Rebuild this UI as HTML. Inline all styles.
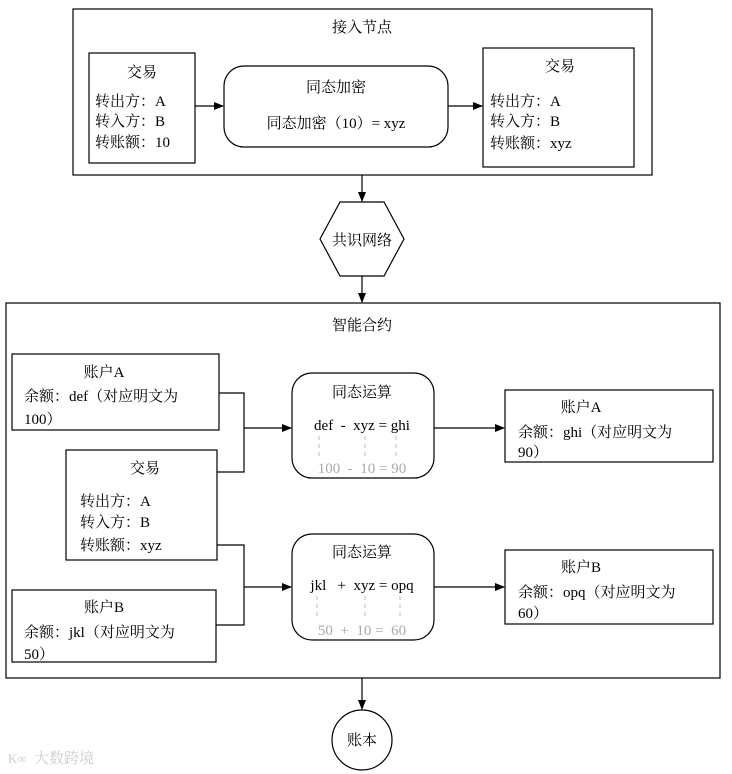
<!DOCTYPE html>
<html><head><meta charset="utf-8"><style>
body{margin:0;background:#fff}
svg{display:block;font-family:"Liberation Serif","Noto Serif CJK SC","Noto Sans CJK SC",serif;font-size:15px}
text{white-space:pre}
</style></head><body>
<svg width="732" height="774" viewBox="0 0 732 774" xmlns="http://www.w3.org/2000/svg">
<defs><marker id="a" markerWidth="10" markerHeight="10" refX="9" refY="5" orient="auto" markerUnits="userSpaceOnUse"><path d="M0,1 L10,5 L0,9 Z" fill="#000"/></marker></defs>
<g fill="none" stroke="#000" stroke-width="1.2">
<rect x="73" y="9" width="579" height="166"/>
<rect x="89" y="53" width="106" height="110"/>
<rect x="224" y="66" width="224" height="81" rx="20"/>
<rect x="483" y="48" width="151" height="119"/>
<line x1="195" y1="106" x2="223" y2="106" marker-end="url(#a)"/>
<line x1="448" y1="106" x2="482" y2="106" marker-end="url(#a)"/>
<line x1="362" y1="175" x2="362" y2="201" marker-end="url(#a)"/>
<polygon points="320,239 340,202 384,202 404,239 384,276 340,276"/>
<line x1="362" y1="276" x2="362" y2="302" marker-end="url(#a)"/>
<rect x="6" y="303" width="714" height="375"/>
<rect x="12" y="354" width="207" height="76"/>
<rect x="66" y="450" width="151" height="110"/>
<rect x="12" y="590" width="204" height="72"/>
<polyline points="219,393 244,393 244,472 217,472"/>
<line x1="244" y1="428" x2="291" y2="428" marker-end="url(#a)"/>
<polyline points="217,545 244,545 244,625 216,625"/>
<line x1="244" y1="587" x2="291" y2="587" marker-end="url(#a)"/>
<rect x="292" y="373" width="142" height="105" rx="20"/>
<rect x="292" y="534" width="142" height="106" rx="20"/>
<line x1="434" y1="428" x2="504" y2="428" marker-end="url(#a)"/>
<line x1="434" y1="587" x2="504" y2="587" marker-end="url(#a)"/>
<rect x="505" y="390" width="208" height="72"/>
<rect x="505" y="550" width="208" height="74"/>
<line x1="362" y1="678" x2="362" y2="709" marker-end="url(#a)"/>
<circle cx="362" cy="740" r="30"/>
</g>
<g stroke="#bbb" stroke-width="1" stroke-dasharray="4,4">
<line x1="319" y1="436" x2="319" y2="460"/><line x1="365" y1="436" x2="365" y2="460"/><line x1="396" y1="436" x2="396" y2="460"/>
<line x1="317" y1="596" x2="317" y2="620"/><line x1="365" y1="596" x2="365" y2="620"/><line x1="400" y1="596" x2="400" y2="620"/>
</g>
<g fill="#000">
<text x="362" y="32" text-anchor="middle">接入节点</text>
<text x="142" y="77" text-anchor="middle">交易</text>
<text x="95" y="106">转出方：A</text><text x="95" y="126">转入方：B</text><text x="95" y="147">转账额：10</text>
<text x="336" y="92" text-anchor="middle">同态加密</text>
<text x="336" y="128" text-anchor="middle">同态加密（10）= xyz</text>
<text x="560" y="71" text-anchor="middle">交易</text>
<text x="490" y="106">转出方：A</text><text x="490" y="126">转入方：B</text><text x="490" y="148">转账额：xyz</text>
<text x="362" y="245" text-anchor="middle">共识网络</text>
<text x="362" y="330" text-anchor="middle">智能合约</text>
<text x="104" y="377" text-anchor="middle">账户A</text>
<text x="24" y="401">余额：def（对应明文为</text><text x="24" y="424">100）</text>
<text x="145" y="473" text-anchor="middle">交易</text>
<text x="80" y="506">转出方：A</text><text x="80" y="527">转入方：B</text><text x="80" y="550">转账额：xyz</text>
<text x="104" y="612" text-anchor="middle">账户B</text>
<text x="24" y="637">余额：jkl（对应明文为</text><text x="24" y="659">50）</text>
<text x="362" y="397" text-anchor="middle">同态运算</text>
<text x="362" y="430" text-anchor="middle">def  -  xyz = ghi</text>
<text x="362" y="557" text-anchor="middle">同态运算</text>
<text x="362" y="590" text-anchor="middle">jkl   +  xyz = opq</text>
<text x="581" y="412" text-anchor="middle">账户A</text>
<text x="518" y="437">余额：ghi（对应明文为</text><text x="518" y="457">90）</text>
<text x="581" y="572" text-anchor="middle">账户B</text>
<text x="518" y="597">余额：opq（对应明文为</text><text x="518" y="618">60）</text>
<text x="362" y="745" text-anchor="middle">账本</text>
</g>
<g fill="#aaa">
<text x="362" y="473" text-anchor="middle">100  -  10 = 90</text>
<text x="362" y="635" text-anchor="middle">50  +  10 =  60</text>
<text x="34" y="763" fill="#ccc" font-size="15">大数跨境</text>
<text x="8" y="763" fill="#ccc" font-size="13">K∞</text>
</g>
</svg>
</body></html>
